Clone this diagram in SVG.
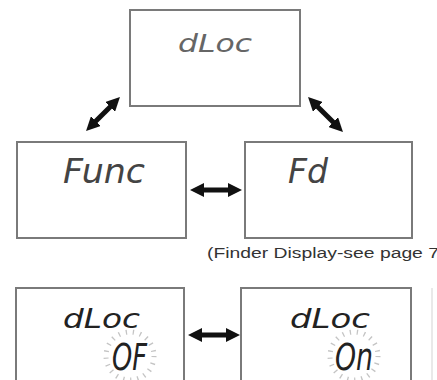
<svg xmlns="http://www.w3.org/2000/svg" width="437" height="380" viewBox="0 0 437 380">
<style>
.box{fill:#fff;stroke:#7a7a7a;stroke-width:2}
.seg{font-family:"DejaVu Sans",sans-serif;font-style:italic}
.arr{stroke:#111;stroke-width:5;fill:none}
.spark{fill:none;stroke:#c4c4c4;stroke-width:5;stroke-dasharray:1.3 5.9}
.note{font-family:"Liberation Sans",Arial,sans-serif;font-size:14px;fill:#333}
</style>
<defs>
<marker id="ah" markerUnits="userSpaceOnUse" markerWidth="14" markerHeight="14" viewBox="0 0 14 14" refX="5" refY="7" orient="auto-start-reverse">
<path d="M0,0 L14,7 L0,14 z" fill="#111"/>
</marker>
</defs>
<rect width="437" height="380" fill="#fff"/>
<g id="node-top">
<rect class="box" x="130" y="10" width="170" height="96"/>
<text class="seg" x="178" y="52" font-size="25" textLength="74" lengthAdjust="spacingAndGlyphs" fill="#666">dLoc</text>
</g>
<g id="node-func">
<rect class="box" x="17" y="142" width="169" height="96"/>
<text class="seg" x="63" y="183" font-size="34" textLength="82" lengthAdjust="spacingAndGlyphs" fill="#444">Func</text>
</g>
<g id="node-fd">
<rect class="box" x="245" y="142" width="167" height="96"/>
<text class="seg" x="288" y="183" font-size="34" textLength="40" lengthAdjust="spacingAndGlyphs" fill="#444">Fd</text>
</g>
<text class="note" x="207" y="258" textLength="232" lengthAdjust="spacingAndGlyphs">(Finder Display-see page 7</text>
<g id="node-off">
<rect class="box" x="16" y="288" width="168" height="100"/>
<circle class="spark" cx="130" cy="356" r="24"/>
<text class="seg" x="63" y="328" font-size="26" textLength="77" lengthAdjust="spacingAndGlyphs" fill="#222">dLoc</text>
<text class="seg" x="112" y="370" font-size="38" textLength="35" lengthAdjust="spacingAndGlyphs" fill="#222">OF</text>
</g>
<g id="node-on">
<rect class="box" x="241" y="288" width="170" height="100"/>
<circle class="spark" cx="354" cy="356" r="24"/>
<text class="seg" x="290" y="328" font-size="26" textLength="80" lengthAdjust="spacingAndGlyphs" fill="#222">dLoc</text>
<text class="seg" x="335" y="370" font-size="38" textLength="38" lengthAdjust="spacingAndGlyphs" fill="#222">On</text>
</g>
<line x1="432" y1="288" x2="432" y2="380" stroke="#e2e2e2" stroke-width="1.5"/>
<g id="connectors">
<line class="arr" x1="92.4" y1="124.6" x2="113.6" y2="103.4" marker-start="url(#ah)" marker-end="url(#ah)"/>
<line class="arr" x1="314.4" y1="103.4" x2="336.6" y2="125.6" marker-start="url(#ah)" marker-end="url(#ah)"/>
<line class="arr" x1="199" y1="190" x2="233" y2="190" marker-start="url(#ah)" marker-end="url(#ah)"/>
<line class="arr" x1="197" y1="335" x2="231" y2="335" marker-start="url(#ah)" marker-end="url(#ah)"/>
</g>
</svg>
